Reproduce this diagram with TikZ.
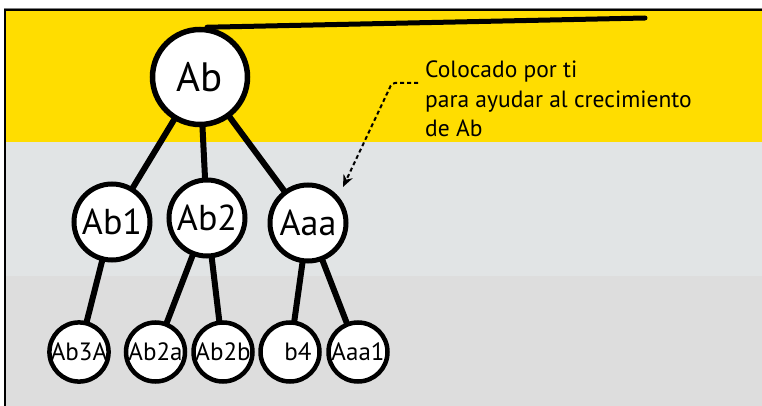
\documentclass[tikz,border=0pt]{standalone}
\usepackage{fontspec}
\setmainfont{PT Sans}
\usetikzlibrary{arrows.meta}
\definecolor{bandyellow}{RGB}{255,221,0}
\definecolor{bandgray}{RGB}{225,228,229}
\definecolor{bandlow}{RGB}{221,221,221}
\begin{document}
\begin{tikzpicture}[x=1pt,y=-1pt,
  bignode/.style={circle,draw=black,fill=white,line width=5.5pt,minimum size=95pt,inner sep=0pt,font=\fontsize{41}{44}\selectfont},
  midnode/.style={circle,draw=black,fill=white,line width=5pt,minimum size=76pt,inner sep=0pt,font=\fontsize{36}{40}\selectfont},
  leafnode/.style={circle,draw=black,fill=white,line width=4.5pt,minimum size=59pt,inner sep=0pt,font=\fontsize{25}{28}\selectfont},
  edge/.style={line width=6pt,black},
  note/.style={anchor=north west,align=left,inner sep=0pt,font=\fontsize{23.5}{29.5}\selectfont}]
\useasboundingbox (0,0) rectangle (762,406);
% background bands
\fill[bandyellow] (5,10) rectangle (762,142);
\fill[bandgray] (5,142) rectangle (762,276);
\fill[bandlow] (5,276) rectangle (762,406);
\draw[gray,line width=1pt] (4,9) -- (762,9);
\draw[black,line width=2pt] (5,10) -- (762,10);
\draw[black,line width=2pt] (5,9) -- (5,406);
% node positions
\coordinate (pAb) at (200,77);
\coordinate (pAb1) at (112,222);
\coordinate (pAb2) at (207,218);
\coordinate (pAaa) at (308,223);
\coordinate (pAb3A) at (79,352);
\coordinate (pAb2a) at (155.5,352);
\coordinate (pAb2b) at (223,352);
\coordinate (pb4) at (290,352);
\coordinate (pAaa1) at (358,352);
% edges (behind nodes)
\draw[edge] (pAb) -- (pAb1);
\draw[edge] (pAb) -- (pAb2);
\draw[edge] (pAb) -- (pAaa);
\draw[edge] (pAb1) -- (pAb3A);
\draw[edge] (pAb2) -- (pAb2a);
\draw[edge] (pAb2) -- (pAb2b);
\draw[edge] (pAaa) -- (pb4);
\draw[edge] (pAaa) -- (pAaa1);
% nodes
\node[bignode] (Ab) at (pAb) {Ab};
\node[midnode] (Ab1) at (pAb1) {Ab1};
\node[midnode] (Ab2) at (pAb2) {Ab2};
\node[midnode] (Aaa) at (pAaa) {Aaa};
\node[leafnode] (Ab3A) at (pAb3A) {Ab3A};
\node[leafnode] (Ab2a) at (pAb2a) {Ab2a};
\node[leafnode] (Ab2b) at (pAb2b) {Ab2b};
\node[leafnode] (b4) at (pb4) {\hspace*{16pt}b4};
\node[leafnode] (Aaa1) at (pAaa1) {Aaa1};
% top line and note
\coordinate (lineend) at (645,18);
\coordinate (notestart) at (418,83);
\coordinate (bend) at (392,83);
\coordinate (arrowtip) at (343,187);
\node[note] (txt) at (425,61) {Colocado por ti\\para ayudar al crecimiento\\de Ab};
\draw[line width=5pt,line cap=round] (Ab.82) -- (lineend);
\draw[line width=2pt,dash pattern=on 4pt off 3pt,rounded corners=3pt,-{Stealth[length=12pt,width=10pt]}] (notestart) -- (bend) -- (arrowtip);
\end{tikzpicture}
\end{document}
